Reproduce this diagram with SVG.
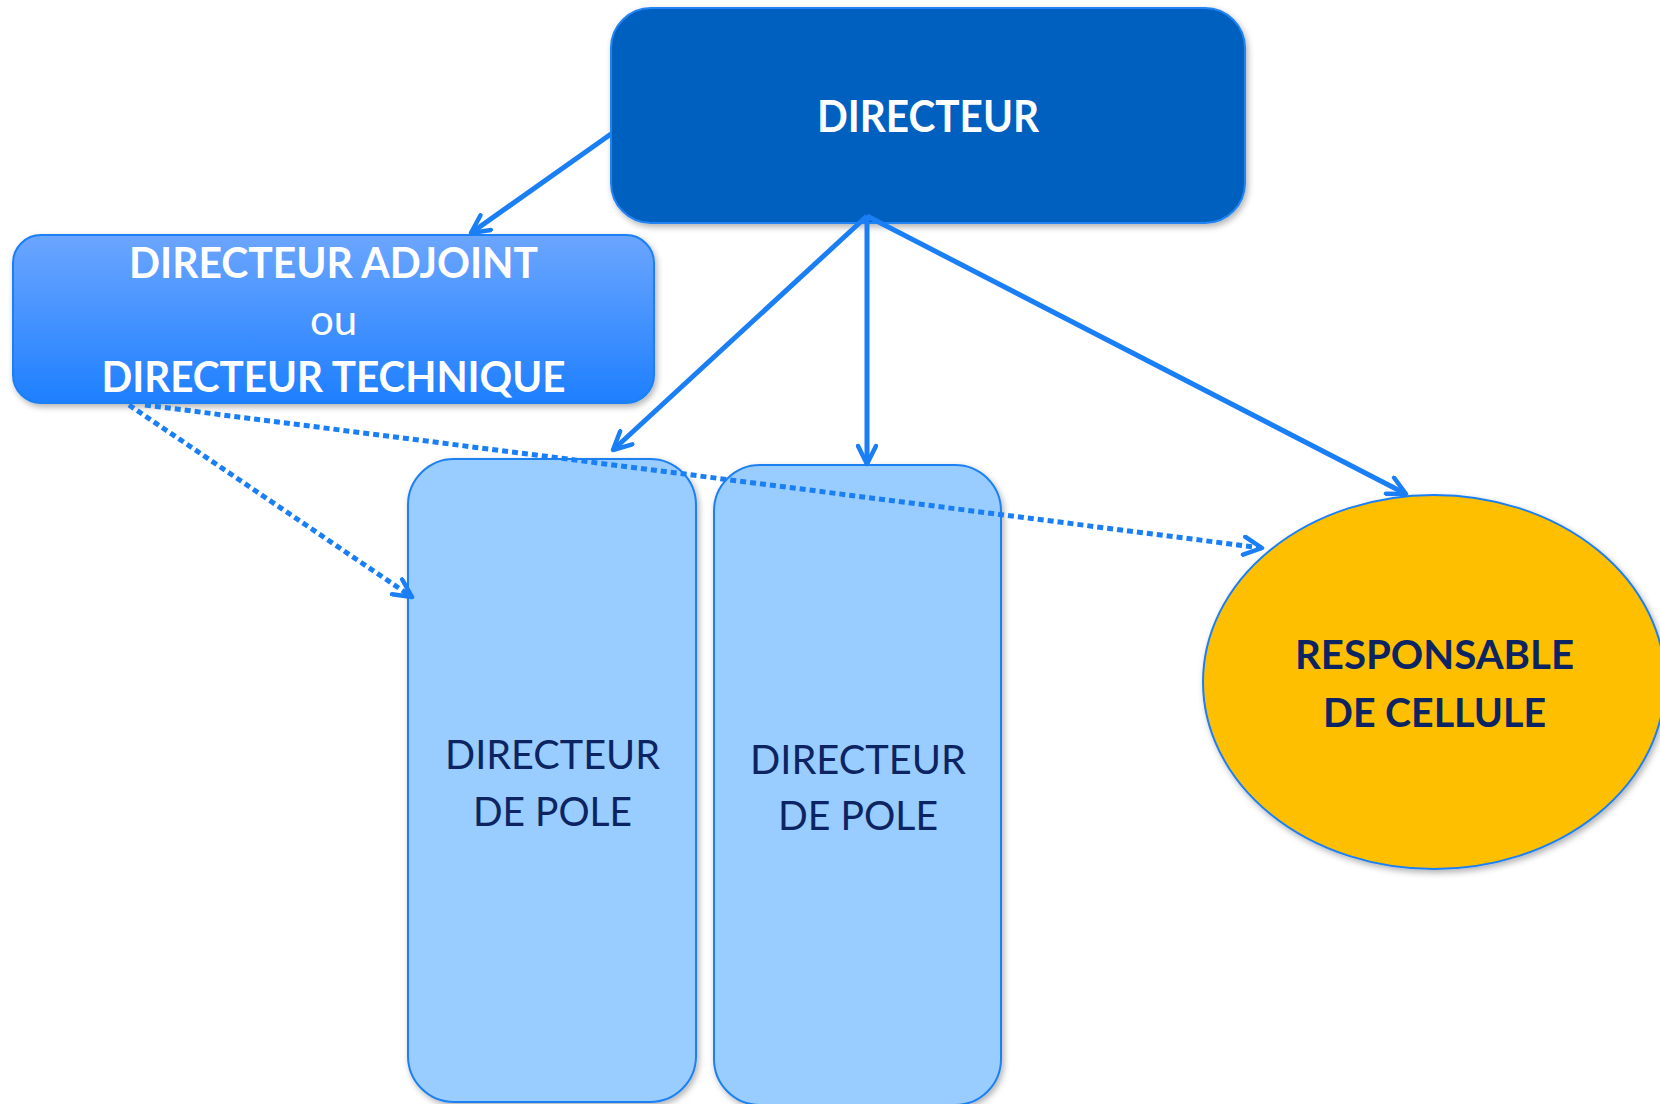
<svg xmlns="http://www.w3.org/2000/svg" width="1660" height="1104" viewBox="0 0 1660 1104">
<style>
.t{font-family:Lato,"Open Sans","Liberation Sans",sans-serif;text-anchor:middle}
.b{font-weight:bold}
.w{fill:#ffffff}
.n{fill:#0c2461}
.con{fill:none;stroke:#1a7ff5;stroke-width:5}
.dot{stroke-dasharray:6 4;stroke-width:5}
</style>
<defs>
<linearGradient id="gAdj" x1="0" y1="0" x2="0" y2="1">
<stop offset="0" stop-color="#6ba6ff"/>
<stop offset="1" stop-color="#1e7fff"/>
</linearGradient>
<filter id="sh" x="-10%" y="-10%" width="120%" height="120%">
<feDropShadow dx="2" dy="3" stdDeviation="3" flood-color="#000" flood-opacity="0.3"/>
</filter>
<marker id="arr" viewBox="0 0 24 22" refX="21" refY="11" markerWidth="24" markerHeight="22" markerUnits="userSpaceOnUse" orient="auto">
<path d="M3,2 L21,11 L3,20" fill="none" stroke="#1a7ff5" stroke-width="4.5" stroke-linecap="round" stroke-linejoin="round"/>
</marker>
</defs>
<rect width="1660" height="1104" fill="#ffffff"/>
<g id="directeur">
<rect x="611" y="8" width="634" height="215" rx="40" fill="#0060c0" stroke="#2483f2" stroke-width="2" filter="url(#sh)"/>
<text class="t b w" x="928" y="132" font-size="44" textLength="222" lengthAdjust="spacingAndGlyphs">DIRECTEUR</text>
</g>
<g id="adjoint">
<rect x="13" y="235" width="641" height="168" rx="28" fill="url(#gAdj)" stroke="#1a7ff5" stroke-width="2" filter="url(#sh)"/>
<text class="t b w" x="333.5" y="278" font-size="42" textLength="409" lengthAdjust="spacingAndGlyphs">DIRECTEUR ADJOINT</text>
<text class="t w" x="333.5" y="335" font-size="42">ou</text>
<text class="t b w" x="333.5" y="392" font-size="42" textLength="464" lengthAdjust="spacingAndGlyphs">DIRECTEUR TECHNIQUE</text>
</g>
<g id="pole1">
<rect x="408" y="459" width="288" height="643" rx="46" fill="#99ccff" stroke="#1f80f0" stroke-width="2" filter="url(#sh)"/>
<text class="t n" x="552.5" y="769" font-size="41" textLength="215" lengthAdjust="spacingAndGlyphs">DIRECTEUR</text>
<text class="t n" x="552.5" y="826" font-size="41" textLength="159" lengthAdjust="spacingAndGlyphs">DE POLE</text>
</g>
<g id="pole2">
<rect x="714" y="465" width="287" height="640" rx="46" fill="#99ccff" stroke="#1f80f0" stroke-width="2" filter="url(#sh)"/>
<text class="t n" x="858" y="774" font-size="41" textLength="216" lengthAdjust="spacingAndGlyphs">DIRECTEUR</text>
<text class="t n" x="858" y="830" font-size="41" textLength="160" lengthAdjust="spacingAndGlyphs">DE POLE</text>
</g>
<g id="responsable">
<ellipse cx="1434" cy="682" rx="231" ry="187" fill="#fdbf00" stroke="#1a7ff5" stroke-width="2" filter="url(#sh)"/>
<text class="t b n" x="1434.5" y="669" font-size="40" textLength="279" lengthAdjust="spacingAndGlyphs">RESPONSABLE</text>
<text class="t b n" x="1434.5" y="727" font-size="40" textLength="223" lengthAdjust="spacingAndGlyphs">DE CELLULE</text>
</g>
<g id="connectors">
<line class="con" x1="611" y1="134" x2="471" y2="233" marker-end="url(#arr)"/>
<line class="con" x1="867" y1="216" x2="613" y2="450" marker-end="url(#arr)"/>
<line class="con" x1="867" y1="216" x2="867" y2="464" marker-end="url(#arr)"/>
<line class="con" x1="867" y1="216" x2="1406" y2="494" marker-end="url(#arr)"/>
<line class="con dot" x1="129" y1="405" x2="412" y2="597" marker-end="url(#arr)"/>
<line class="con dot" x1="145" y1="405" x2="1262" y2="548" marker-end="url(#arr)"/>
</g>
</svg>
